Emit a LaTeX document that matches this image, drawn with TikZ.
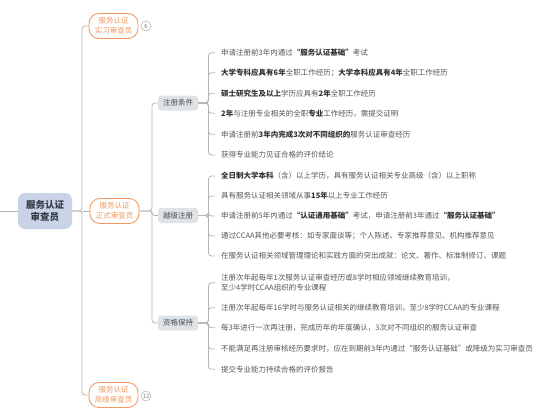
\documentclass[tikz,border=0pt]{standalone}
\usepackage{fontspec}
\setmainfont{Noto Sans CJK SC}
\definecolor{lineg}{HTML}{B4B4B4}
\definecolor{orng}{HTML}{F29A62}
\definecolor{rootc}{HTML}{C9D3E7}
\definecolor{roott}{HTML}{333A45}
\definecolor{midc}{HTML}{DDE3E6}
\definecolor{midt}{HTML}{4A4F55}
\definecolor{leaft}{HTML}{555555}
\definecolor{boldt}{HTML}{333333}
\definecolor{badget}{HTML}{777777}
\newcommand\strongpart[1]{{\bfseries\color{boldt}#1}}
\begin{document}
\begin{tikzpicture}[x=1pt,y=-1pt,
  conn/.style={draw=lineg, line width=0.8pt, rounded corners=3pt},
  rootbox/.style={fill=rootc, rounded corners=7pt, minimum width=54pt, minimum height=36pt, font=\fontsize{9.5}{12.5}\selectfont\bfseries, text=roott, align=center, inner sep=1pt},
  lvlone/.style={draw=orng, line width=0.9pt, fill=white, rounded corners=10pt, minimum width=49pt, minimum height=25pt, font=\fontsize{7.5}{10}\selectfont, text=orng, align=center, inner sep=1pt},
  lvltwo/.style={fill=midc, rounded corners=3pt, minimum width=40pt, minimum height=15pt, font=\fontsize{7.5}{9}\selectfont, text=midt, inner sep=1pt},
  leaf/.style={anchor=west, inner sep=0pt, font=\fontsize{7.5}{10}\selectfont, text=leaft, align=left},
  badge/.style={circle, draw=lineg, line width=0.6pt, minimum size=10pt, inner sep=0pt, font=\fontsize{6}{6}\selectfont, text=badget},
  twig/.style={conn, shorten >=6pt}
]
\useasboundingbox (0,0) rectangle (554,418);

% root
\node[rootbox] (root) at (45,211) {服务认证\\审查员};
\coordinate (edge) at (0,211);
\draw[conn] (edge) -- (root.west);

% level one
\node[lvlone] (n1) at (113.5,26) {服务认证\\实习审查员};
\node[lvlone] (n2) at (114.5,211) {服务认证\\正式审查员};
\node[lvlone] (n3) at (113.5,395) {服务认证\\高级审查员};
\node[badge] (b1) at (146,26) {6};
\node[badge] (b3) at (146,396) {12};

\coordinate (t1) at (82,211);
\draw[conn] (root.east) -- (t1) |- (n1.west);
\draw[conn] (root.east) -- (t1) |- (n3.west);
\draw[conn] (t1) -- (n2.west);

% level two
\node[lvltwo] (c1) at (178,103) {注册条件};
\node[lvltwo] (c2) at (178,215.5) {越级注册};
\node[lvltwo] (c3) at (178,323) {资格保持};

\coordinate (t2) at (152,211);
\draw[conn] (n2.east) -- (t2) |- (c1.west);
\draw[conn] (n2.east) -- (t2) |- (c3.west);
\draw[conn] (t2) |- (c2.west);

% leaves of 注册条件
\node[leaf] (a1) at (221,52.7) {申请注册前3年内通过\strongpart{“服务认证基础”}考试};
\node[leaf] (a2) at (221,72.7) {\strongpart{大学专科应具有6年}全职工作经历；\strongpart{大学本科应具有4年}全职工作经历};
\node[leaf] (a3) at (221,93.3) {\strongpart{硕士研究生及以上}学历应具有\strongpart{2年}全职工作经历};
\node[leaf] (a4) at (221,113.3) {\strongpart{2年}与注册专业相关的全职\strongpart{专业}工作经历，需提交证明};
\node[leaf] (a5) at (221,134.3) {申请注册前\strongpart{3年内完成3次对不同组织的}服务认证审查经历};
\node[leaf] (a6) at (221,155) {获得专业能力见证合格的评价结论};
\coordinate (t3) at (208.5,103);
\foreach \k in {1,...,6} {\draw[twig] (c1.east) -- (t3) |- (a\k.west);}

% leaves of 越级注册
\node[leaf] (d1) at (221,176) {\strongpart{全日制大学本科}（含）以上学历，具有服务认证相关专业高级（含）以上职称};
\node[leaf] (d2) at (221,196) {具有服务认证相关领域从事\strongpart{15年}以上专业工作经历};
\node[leaf] (d3) at (221,216) {申请注册前5年内通过\strongpart{“认证通用基础”}考试，申请注册前3年通过\strongpart{“服务认证基础”}};
\node[leaf] (d4) at (221,236) {通过CCAA其他必要考核：如专家面谈等；个人陈述、专家推荐意见、机构推荐意见};
\node[leaf] (d5) at (221,256) {在服务认证相关领域管理理论和实践方面的突出成就：论文、著作、标准制修订、课题};
\coordinate (t4) at (208.5,215.5);
\foreach \k in {1,...,5} {\draw[twig] (c2.east) -- (t4) |- (d\k.west);}

% leaves of 资格保持
\node[leaf] (e1) at (221,282.7) {注册次年起每年1次服务认证审查经历或8学时相应领域继续教育培训，\\至少4学时CCAA组织的专业课程};
\node[leaf] (e2) at (221,307.7) {注册次年起每年16学时与服务认证相关的继续教育培训，至少8学时CCAA的专业课程};
\node[leaf] (e3) at (221,327.7) {每3年进行一次再注册，完成历年的年度确认，3次对不同组织的服务认证审查};
\node[leaf] (e4) at (221,349) {不能满足再注册审核经历要求时，应在到期前3年内通过“服务认证基础”或降级为实习审查员};
\node[leaf] (e5) at (221,369.3) {提交专业能力持续合格的评价报告};
\coordinate (t5) at (208.5,323);
\foreach \k in {1,...,5} {\draw[twig] (c3.east) -- (t5) |- (e\k.west);}
\end{tikzpicture}
\end{document}
